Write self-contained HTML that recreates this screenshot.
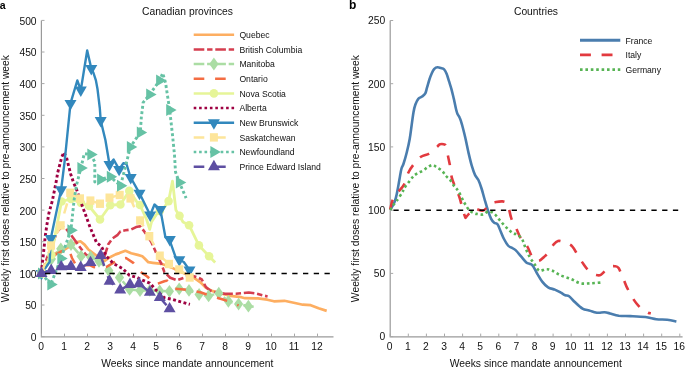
<!DOCTYPE html><html><head><meta charset="utf-8"><style>html,body{margin:0;padding:0;background:#fff;overflow:hidden}svg{display:block;will-change:transform}</style></head><body>
<svg width="685" height="367" viewBox="0 0 685 367" font-family='"Liberation Sans", sans-serif'>
<path d="M41.4,20.4 V336.8 H333.5" fill="none" stroke="#9a9a9a" stroke-width="1.2"/>
<text x="36.6" y="341.0" font-size="10.3" text-anchor="end" fill="#111">0</text>
<text x="36.6" y="309.4" font-size="10.3" text-anchor="end" fill="#111">50</text>
<text x="36.6" y="277.8" font-size="10.3" text-anchor="end" fill="#111">100</text>
<text x="36.6" y="246.1" font-size="10.3" text-anchor="end" fill="#111">150</text>
<text x="36.6" y="214.5" font-size="10.3" text-anchor="end" fill="#111">200</text>
<text x="36.6" y="182.9" font-size="10.3" text-anchor="end" fill="#111">250</text>
<text x="36.6" y="151.3" font-size="10.3" text-anchor="end" fill="#111">300</text>
<text x="36.6" y="119.7" font-size="10.3" text-anchor="end" fill="#111">350</text>
<text x="36.6" y="88.0" font-size="10.3" text-anchor="end" fill="#111">400</text>
<text x="36.6" y="56.4" font-size="10.3" text-anchor="end" fill="#111">450</text>
<text x="36.6" y="24.8" font-size="10.3" text-anchor="end" fill="#111">500</text>
<text x="41.0" y="349.8" font-size="10.3" text-anchor="middle" fill="#111">0</text>
<text x="64.0" y="349.8" font-size="10.3" text-anchor="middle" fill="#111">1</text>
<text x="87.0" y="349.8" font-size="10.3" text-anchor="middle" fill="#111">2</text>
<text x="110.0" y="349.8" font-size="10.3" text-anchor="middle" fill="#111">3</text>
<text x="133.0" y="349.8" font-size="10.3" text-anchor="middle" fill="#111">4</text>
<text x="156.0" y="349.8" font-size="10.3" text-anchor="middle" fill="#111">5</text>
<text x="179.0" y="349.8" font-size="10.3" text-anchor="middle" fill="#111">6</text>
<text x="202.0" y="349.8" font-size="10.3" text-anchor="middle" fill="#111">7</text>
<text x="225.0" y="349.8" font-size="10.3" text-anchor="middle" fill="#111">8</text>
<text x="248.0" y="349.8" font-size="10.3" text-anchor="middle" fill="#111">9</text>
<text x="271.0" y="349.8" font-size="10.3" text-anchor="middle" fill="#111">10</text>
<text x="294.0" y="349.8" font-size="10.3" text-anchor="middle" fill="#111">11</text>
<text x="317.0" y="349.8" font-size="10.3" text-anchor="middle" fill="#111">12</text>
<path d="M41.5,336.6 h3 M41.5,305.0 h3 M41.5,273.4 h3 M41.5,241.7 h3 M41.5,210.1 h3 M41.5,178.5 h3 M41.5,146.9 h3 M41.5,115.3 h3 M41.5,83.6 h3 M41.5,52.0 h3 M41.5,20.4 h3 M41.5,336.6 v-3 M64.5,336.6 v-3 M87.5,336.6 v-3 M110.5,336.6 v-3 M133.5,336.6 v-3 M156.5,336.6 v-3 M179.5,336.6 v-3 M202.5,336.6 v-3 M225.5,336.6 v-3 M248.5,336.6 v-3 M271.5,336.6 v-3 M294.5,336.6 v-3 M317.5,336.6 v-3" stroke="#a8a8a8" stroke-width="1"/>
<text x="187.3" y="367" font-size="10.3" text-anchor="middle" fill="#111">Weeks since mandate announcement</text>
<text transform="translate(8.6,178.6) rotate(-90)" font-size="10.3" text-anchor="middle" fill="#111">Weekly first doses relative to pre-announcement week</text>
<text x="187.5" y="14.9" font-size="10.3" text-anchor="middle" fill="#111">Canadian provinces</text>
<text x="-0.3" y="8.9" font-size="10.5" font-weight="bold" fill="#000">a</text>
<path d="M390.2,20.5 V336.8 H682.6" fill="none" stroke="#9a9a9a" stroke-width="1.2"/>
<text x="385.3" y="340.4" font-size="10.3" text-anchor="end" fill="#111">0</text>
<text x="385.3" y="277.2" font-size="10.3" text-anchor="end" fill="#111">50</text>
<text x="385.3" y="214.0" font-size="10.3" text-anchor="end" fill="#111">100</text>
<text x="385.3" y="150.7" font-size="10.3" text-anchor="end" fill="#111">150</text>
<text x="385.3" y="87.5" font-size="10.3" text-anchor="end" fill="#111">200</text>
<text x="385.3" y="24.3" font-size="10.3" text-anchor="end" fill="#111">250</text>
<text x="389.7" y="349.8" font-size="10.3" text-anchor="middle" fill="#111">0</text>
<text x="407.8" y="349.8" font-size="10.3" text-anchor="middle" fill="#111">1</text>
<text x="425.9" y="349.8" font-size="10.3" text-anchor="middle" fill="#111">2</text>
<text x="444.0" y="349.8" font-size="10.3" text-anchor="middle" fill="#111">3</text>
<text x="462.1" y="349.8" font-size="10.3" text-anchor="middle" fill="#111">4</text>
<text x="480.2" y="349.8" font-size="10.3" text-anchor="middle" fill="#111">5</text>
<text x="498.3" y="349.8" font-size="10.3" text-anchor="middle" fill="#111">6</text>
<text x="516.4" y="349.8" font-size="10.3" text-anchor="middle" fill="#111">7</text>
<text x="534.5" y="349.8" font-size="10.3" text-anchor="middle" fill="#111">8</text>
<text x="552.6" y="349.8" font-size="10.3" text-anchor="middle" fill="#111">9</text>
<text x="570.7" y="349.8" font-size="10.3" text-anchor="middle" fill="#111">10</text>
<text x="588.8" y="349.8" font-size="10.3" text-anchor="middle" fill="#111">11</text>
<text x="606.9" y="349.8" font-size="10.3" text-anchor="middle" fill="#111">12</text>
<text x="625.0" y="349.8" font-size="10.3" text-anchor="middle" fill="#111">13</text>
<text x="643.1" y="349.8" font-size="10.3" text-anchor="middle" fill="#111">14</text>
<text x="661.2" y="349.8" font-size="10.3" text-anchor="middle" fill="#111">15</text>
<text x="679.3" y="349.8" font-size="10.3" text-anchor="middle" fill="#111">16</text>
<path d="M390.2,336.6 h3 M390.2,273.4 h3 M390.2,210.2 h3 M390.2,146.9 h3 M390.2,83.7 h3 M390.2,20.5 h3 M390.2,336.6 v-3 M408.3,336.6 v-3 M426.4,336.6 v-3 M444.5,336.6 v-3 M462.6,336.6 v-3 M480.7,336.6 v-3 M498.8,336.6 v-3 M516.9,336.6 v-3 M535.0,336.6 v-3 M553.1,336.6 v-3 M571.2,336.6 v-3 M589.3,336.6 v-3 M607.4,336.6 v-3 M625.5,336.6 v-3 M643.6,336.6 v-3 M661.7,336.6 v-3 M679.8,336.6 v-3" stroke="#a8a8a8" stroke-width="1"/>
<text x="535.8" y="367" font-size="10.3" text-anchor="middle" fill="#111">Weeks since mandate announcement</text>
<text transform="translate(359.2,178.6) rotate(-90)" font-size="10.3" text-anchor="middle" fill="#111">Weekly first doses relative to pre-announcement week</text>
<text x="536" y="14.9" font-size="10.3" text-anchor="middle" fill="#111">Countries</text>
<text x="349.0" y="8.9" font-size="12" font-weight="bold" fill="#000">b</text>
<path d="M41.5,273.4 L47.0,262.0 L53.0,255.0 L58.0,252.0 L63.3,250.3 L69.8,246.3 L76.3,242.2 L80.4,241.3 L84.5,244.6 L88.1,249.2 L92.7,252.8 L99.2,257.7 L104.7,261.0 L109.0,257.7 L115.6,254.4 L119.4,253.1 L125.4,250.8 L131.2,253.2 L137.7,254.9 L142.3,256.3 L144.7,258.5 L148.3,262.2 L152.8,262.8 L162.1,263.9 L171.3,267.4 L180.6,272.0 L186.0,274.0 L192.7,276.8 L200.4,282.3 L205.9,287.7 L212.7,291.1 L222.2,293.8 L230.4,295.9 L241.3,297.2 L245.0,298.2 L258.1,298.4 L267.3,299.7 L273.9,301.3 L284.4,300.8 L294.9,303.0 L302.8,304.7 L310.7,305.2 L318.6,308.3 L326.7,310.9" fill="none" stroke="#fdae61" stroke-width="2.7" stroke-linecap="butt" stroke-linejoin="round"/>
<path d="M41.5,273.4 L47.0,258.0 L52.0,245.0 L57.4,231.3 L62.0,226.5 L65.6,228.1 L71.6,235.7 L77.1,243.3 L82.9,251.2 L86.0,254.6 L90.2,256.9 L96.0,258.5 L104.1,257.7 L108.3,244.2 L112.4,238.5 L117.3,235.2 L120.5,231.2 L125.4,230.3 L131.2,229.5 L136.1,227.1 L140.1,226.3 L143.4,230.3 L147.5,236.1 L151.6,242.6 L154.9,250.0 L157.3,255.7 L161.4,263.9 L164.4,272.1 L170.2,277.8 L177.1,280.2 L184.1,277.8 L187.4,276.5 L193.0,276.0 L198.0,277.5 L201.8,279.5 L205.9,287.0 L210.0,290.4 L216.8,292.5 L225.0,293.8 L235.9,293.8 L248.8,292.5 L255.0,293.3 L264.7,295.8 L267.6,296.4" fill="none" stroke="#d53e4f" stroke-width="2.6" stroke-dasharray="10.6 2.8 5.4 2.8" stroke-linecap="butt" stroke-linejoin="round"/>
<path d="M41.5,273.4 L51.4,259.0 L60.8,248.8 L71.0,244.5 L81.0,256.2 L90.6,257.0 L99.0,261.3 L108.8,270.6 L119.5,277.5 L129.6,289.4 L140.0,290.6 L149.8,290.4 L159.7,291.0 L169.4,291.3 L179.2,288.8 L189.0,290.4 L199.1,294.5 L208.6,295.9 L218.8,293.2 L228.4,301.3 L238.6,304.1 L248.4,306.2 L254.2,306.9" fill="none" stroke="#abdda4" stroke-width="2.5" stroke-dasharray="10.6 2.8 5.4 2.8" stroke-linecap="butt" stroke-linejoin="round"/>
<path d="M41.5,267.0 L46.1,273.4 L41.5,279.8 L36.9,273.4 Z" fill="#abdda4"/>
<path d="M51.4,252.6 L56.0,259.0 L51.4,265.4 L46.8,259.0 Z" fill="#abdda4"/>
<path d="M60.8,242.4 L65.4,248.8 L60.8,255.2 L56.2,248.8 Z" fill="#abdda4"/>
<path d="M71.0,238.1 L75.6,244.5 L71.0,250.9 L66.4,244.5 Z" fill="#abdda4"/>
<path d="M81.0,249.8 L85.6,256.2 L81.0,262.6 L76.4,256.2 Z" fill="#abdda4"/>
<path d="M90.6,250.6 L95.2,257.0 L90.6,263.4 L86.0,257.0 Z" fill="#abdda4"/>
<path d="M99.0,254.9 L103.6,261.3 L99.0,267.7 L94.4,261.3 Z" fill="#abdda4"/>
<path d="M108.8,264.2 L113.4,270.6 L108.8,277.0 L104.2,270.6 Z" fill="#abdda4"/>
<path d="M119.5,271.1 L124.1,277.5 L119.5,283.9 L114.9,277.5 Z" fill="#abdda4"/>
<path d="M129.6,283.0 L134.2,289.4 L129.6,295.8 L125.0,289.4 Z" fill="#abdda4"/>
<path d="M140.0,284.2 L144.6,290.6 L140.0,297.0 L135.4,290.6 Z" fill="#abdda4"/>
<path d="M149.8,284.0 L154.4,290.4 L149.8,296.8 L145.2,290.4 Z" fill="#abdda4"/>
<path d="M159.7,284.6 L164.3,291.0 L159.7,297.4 L155.1,291.0 Z" fill="#abdda4"/>
<path d="M169.4,284.9 L174.0,291.3 L169.4,297.7 L164.8,291.3 Z" fill="#abdda4"/>
<path d="M179.2,282.4 L183.8,288.8 L179.2,295.2 L174.6,288.8 Z" fill="#abdda4"/>
<path d="M189.0,284.0 L193.6,290.4 L189.0,296.8 L184.4,290.4 Z" fill="#abdda4"/>
<path d="M199.1,288.1 L203.7,294.5 L199.1,300.9 L194.5,294.5 Z" fill="#abdda4"/>
<path d="M208.6,289.5 L213.2,295.9 L208.6,302.3 L204.0,295.9 Z" fill="#abdda4"/>
<path d="M218.8,286.8 L223.4,293.2 L218.8,299.6 L214.2,293.2 Z" fill="#abdda4"/>
<path d="M228.4,294.9 L233.0,301.3 L228.4,307.7 L223.8,301.3 Z" fill="#abdda4"/>
<path d="M238.6,297.7 L243.2,304.1 L238.6,310.5 L234.0,304.1 Z" fill="#abdda4"/>
<path d="M248.4,299.8 L253.0,306.2 L248.4,312.6 L243.8,306.2 Z" fill="#abdda4"/>
<path d="M41.5,273.4 L48.0,262.0 L54.3,255.2 L60.0,252.0 L66.8,249.2 L69.1,250.0 L72.0,258.0 L75.5,264.4 L80.0,265.5 L89.4,265.0 L93.3,267.0 L100.0,267.5 L106.3,267.0 L114.5,262.1 L120.0,259.0 L126.0,258.0 L133.3,262.9 L140.7,271.9 L147.2,276.5 L155.1,283.6 L157.2,283.9 L164.4,281.3 L167.0,280.6 L175.1,288.8 L184.1,289.6 L194.0,291.0 L201.1,292.5 L212.7,296.6 L222.2,299.3 L232.5,302.7 L238.6,305.4" fill="none" stroke="#f46d43" stroke-width="2.5" stroke-dasharray="10.6 10.8" stroke-linecap="butt" stroke-linejoin="round"/>
<path d="M41.5,273.4 L51.4,255.0 L61.5,201.5 L71.0,199.0 L81.0,203.0 L89.0,206.0 L100.0,219.5 L110.2,205.2 L120.4,204.5 L129.3,190.9 L137.3,202.5 L140.0,205.0 L146.6,219.5 L149.7,229.3 L151.5,222.0 L156.4,214.6 L159.8,211.0 L162.6,209.7 L168.6,201.1 L172.5,181.1 L175.9,210.0 L179.5,215.7 L183.0,222.0 L189.1,225.2 L198.9,245.4 L209.1,256.3 L215.2,262.5" fill="none" stroke="#e6f598" stroke-width="2.8" stroke-linecap="butt" stroke-linejoin="round"/>
<circle cx="41.5" cy="273.4" r="4.3" fill="#e6f598"/>
<circle cx="51.4" cy="255.0" r="4.3" fill="#e6f598"/>
<circle cx="61.5" cy="201.5" r="4.3" fill="#e6f598"/>
<circle cx="71.0" cy="199.0" r="4.3" fill="#e6f598"/>
<circle cx="81.0" cy="203.0" r="4.3" fill="#e6f598"/>
<circle cx="89.0" cy="206.0" r="4.3" fill="#e6f598"/>
<circle cx="100.0" cy="219.5" r="4.3" fill="#e6f598"/>
<circle cx="110.2" cy="205.2" r="4.3" fill="#e6f598"/>
<circle cx="120.4" cy="204.5" r="4.3" fill="#e6f598"/>
<circle cx="129.3" cy="190.9" r="4.3" fill="#e6f598"/>
<circle cx="140.0" cy="205.0" r="4.3" fill="#e6f598"/>
<circle cx="159.8" cy="211.0" r="4.3" fill="#e6f598"/>
<circle cx="168.6" cy="201.1" r="4.3" fill="#e6f598"/>
<circle cx="179.5" cy="215.7" r="4.3" fill="#e6f598"/>
<circle cx="189.1" cy="225.2" r="4.3" fill="#e6f598"/>
<circle cx="198.9" cy="245.4" r="4.3" fill="#e6f598"/>
<circle cx="209.1" cy="256.3" r="4.3" fill="#e6f598"/>
<path d="M41.5,273.4 L42.0,266.6 L43.6,252.0 L45.4,235.0 L46.8,225.4 L48.9,213.2 L52.3,200.9 L55.0,187.7 L56.3,180.9 L57.7,172.7 L59.8,164.5 L61.8,157.0 L63.8,152.3 L66.6,157.7 L68.6,165.9 L70.7,174.1 L73.4,182.2 L76.1,188.4 L77.5,192.0 L80.9,202.3 L85.0,213.2 L88.4,222.7 L90.2,227.5 L96.5,242.5 L101.4,246.5 L106.3,256.3 L113.7,263.7 L122.7,268.6 L129.2,275.1 L137.4,277.6 L141.6,279.8 L149.8,283.1 L156.3,290.4 L164.5,297.8 L172.7,299.4 L180.9,301.9 L189.9,304.3" fill="none" stroke="#9e0142" stroke-width="2.9" stroke-dasharray="2.9 2.5" stroke-linecap="butt" stroke-linejoin="round"/>
<path d="M41.5,273.4 L49.6,262.0 L50.8,238.6 L61.1,189.8 L64.8,160.0 L70.5,103.4 L77.3,80.5 L80.8,90.1 L87.2,50.5 L91.3,68.5 L93.5,73.0 L95.9,80.4 L97.5,89.0 L98.6,98.1 L99.8,108.0 L100.7,120.5 L105.4,140.0 L109.5,164.5 L113.6,159.5 L119.1,169.4 L123.4,163.2 L126.5,164.0 L130.4,177.0 L139.5,193.3 L150.2,215.0 L154.5,204.5 L160.4,209.6 L165.4,237.3 L169.6,240.1 L175.7,257.5 L179.4,259.8 L183.8,262.0 L189.2,269.6" fill="none" stroke="#3288bd" stroke-width="2.4" stroke-linecap="butt" stroke-linejoin="round"/>
<path d="M35.5,269.9 L47.5,269.9 L41.5,280.3 Z" fill="#3288bd"/>
<path d="M44.8,235.1 L56.8,235.1 L50.8,245.5 Z" fill="#3288bd"/>
<path d="M55.1,186.3 L67.1,186.3 L61.1,196.7 Z" fill="#3288bd"/>
<path d="M64.5,99.9 L76.5,99.9 L70.5,110.3 Z" fill="#3288bd"/>
<path d="M74.8,86.6 L86.8,86.6 L80.8,97.0 Z" fill="#3288bd"/>
<path d="M85.3,65.0 L97.3,65.0 L91.3,75.4 Z" fill="#3288bd"/>
<path d="M94.7,117.0 L106.7,117.0 L100.7,127.4 Z" fill="#3288bd"/>
<path d="M103.5,161.0 L115.5,161.0 L109.5,171.4 Z" fill="#3288bd"/>
<path d="M113.1,165.9 L125.1,165.9 L119.1,176.3 Z" fill="#3288bd"/>
<path d="M124.7,174.0 L136.7,174.0 L130.7,184.4 Z" fill="#3288bd"/>
<path d="M133.5,189.8 L145.5,189.8 L139.5,200.2 Z" fill="#3288bd"/>
<path d="M144.2,211.5 L156.2,211.5 L150.2,221.9 Z" fill="#3288bd"/>
<path d="M154.4,206.1 L166.4,206.1 L160.4,216.5 Z" fill="#3288bd"/>
<path d="M163.8,236.0 L175.8,236.0 L169.8,246.4 Z" fill="#3288bd"/>
<path d="M173.3,256.3 L185.3,256.3 L179.3,266.7 Z" fill="#3288bd"/>
<path d="M183.5,266.5 L195.5,266.5 L189.5,276.9 Z" fill="#3288bd"/>
<path d="M41.5,273.4 L51.0,245.5 L60.7,225.4 L70.2,192.8 L80.0,198.5 L90.4,200.6 L100.0,203.7 L109.5,197.7 L119.7,195.0 L130.4,198.4 L140.1,220.5 L149.3,236.2 L159.8,255.7 L169.0,264.0 L179.2,269.5 L189.7,277.5" fill="none" stroke="#fde59a" stroke-width="2.5" stroke-dasharray="10.6 10.8" stroke-linecap="butt" stroke-linejoin="round"/>
<rect x="37.5" y="269.2" width="8.0" height="8.4" fill="#fde59a"/>
<rect x="47.0" y="241.3" width="8.0" height="8.4" fill="#fde59a"/>
<rect x="56.7" y="221.2" width="8.0" height="8.4" fill="#fde59a"/>
<rect x="66.2" y="188.6" width="8.0" height="8.4" fill="#fde59a"/>
<rect x="76.0" y="194.3" width="8.0" height="8.4" fill="#fde59a"/>
<rect x="86.4" y="196.4" width="8.0" height="8.4" fill="#fde59a"/>
<rect x="96.0" y="199.5" width="8.0" height="8.4" fill="#fde59a"/>
<rect x="105.5" y="193.5" width="8.0" height="8.4" fill="#fde59a"/>
<rect x="115.7" y="190.8" width="8.0" height="8.4" fill="#fde59a"/>
<rect x="126.4" y="194.2" width="8.0" height="8.4" fill="#fde59a"/>
<rect x="136.1" y="216.3" width="8.0" height="8.4" fill="#fde59a"/>
<rect x="145.3" y="232.0" width="8.0" height="8.4" fill="#fde59a"/>
<rect x="155.8" y="251.5" width="8.0" height="8.4" fill="#fde59a"/>
<rect x="165.0" y="259.8" width="8.0" height="8.4" fill="#fde59a"/>
<rect x="175.2" y="265.3" width="8.0" height="8.4" fill="#fde59a"/>
<rect x="185.7" y="273.3" width="8.0" height="8.4" fill="#fde59a"/>
<path d="M41.5,273.4 L50.8,284.6 L60.8,258.5 L66.3,243.2 L70.9,230.2 L74.1,200.0 L76.5,185.0 L80.9,168.0 L84.3,153.6 L90.8,154.6 L94.8,162.0 L94.8,182.0 L100.6,179.4 L110.3,176.7 L120.5,185.8 L125.4,166.8 L130.4,147.0 L140.3,132.4 L141.3,117.7 L143.1,102.6 L149.7,94.4 L159.6,80.5 L162.7,73.2 L165.6,83.0 L167.3,94.4 L169.7,110.0 L172.5,135.0 L174.5,155.0 L175.5,172.0 L179.4,182.5 L186.1,198.1" fill="none" stroke="#66c2a5" stroke-width="2.9" stroke-dasharray="2.9 2.5" stroke-linecap="butt" stroke-linejoin="round"/>
<path d="M38.0,267.4 L38.0,279.4 L48.4,273.4 Z" fill="#66c2a5"/>
<path d="M47.3,278.6 L47.3,290.6 L57.7,284.6 Z" fill="#66c2a5"/>
<path d="M57.3,252.5 L57.3,264.5 L67.7,258.5 Z" fill="#66c2a5"/>
<path d="M67.4,224.2 L67.4,236.2 L77.8,230.2 Z" fill="#66c2a5"/>
<path d="M77.4,162.0 L77.4,174.0 L87.8,168.0 Z" fill="#66c2a5"/>
<path d="M87.3,148.6 L87.3,160.6 L97.7,154.6 Z" fill="#66c2a5"/>
<path d="M97.1,173.4 L97.1,185.4 L107.5,179.4 Z" fill="#66c2a5"/>
<path d="M106.8,170.7 L106.8,182.7 L117.2,176.7 Z" fill="#66c2a5"/>
<path d="M117.0,179.8 L117.0,191.8 L127.4,185.8 Z" fill="#66c2a5"/>
<path d="M126.9,141.0 L126.9,153.0 L137.3,147.0 Z" fill="#66c2a5"/>
<path d="M136.8,126.4 L136.8,138.4 L147.2,132.4 Z" fill="#66c2a5"/>
<path d="M146.2,88.4 L146.2,100.4 L156.6,94.4 Z" fill="#66c2a5"/>
<path d="M156.1,74.5 L156.1,86.5 L166.5,80.5 Z" fill="#66c2a5"/>
<path d="M166.2,104.0 L166.2,116.0 L176.6,110.0 Z" fill="#66c2a5"/>
<path d="M175.9,176.5 L175.9,188.5 L186.3,182.5 Z" fill="#66c2a5"/>
<path d="M41.5,273.4 L51.2,270.5 L61.2,266.8 L70.9,266.4 L80.7,267.5 L90.5,262.6 L100.6,255.4 L109.6,281.2 L120.2,290.0 L130.0,284.5 L139.0,283.7 L149.9,292.2 L159.8,297.5 L169.6,308.8" fill="none" stroke="#5e4fa2" stroke-width="2.5" stroke-dasharray="10.6 10.8" stroke-linecap="butt" stroke-linejoin="round"/>
<path d="M35.5,276.9 L47.5,276.9 L41.5,266.5 Z" fill="#5e4fa2"/>
<path d="M45.2,274.0 L57.2,274.0 L51.2,263.6 Z" fill="#5e4fa2"/>
<path d="M55.2,270.3 L67.2,270.3 L61.2,259.9 Z" fill="#5e4fa2"/>
<path d="M64.9,269.9 L76.9,269.9 L70.9,259.5 Z" fill="#5e4fa2"/>
<path d="M74.7,271.0 L86.7,271.0 L80.7,260.6 Z" fill="#5e4fa2"/>
<path d="M84.5,266.1 L96.5,266.1 L90.5,255.7 Z" fill="#5e4fa2"/>
<path d="M94.6,258.9 L106.6,258.9 L100.6,248.5 Z" fill="#5e4fa2"/>
<path d="M103.6,284.7 L115.6,284.7 L109.6,274.3 Z" fill="#5e4fa2"/>
<path d="M114.2,293.5 L126.2,293.5 L120.2,283.1 Z" fill="#5e4fa2"/>
<path d="M124.0,288.0 L136.0,288.0 L130.0,277.6 Z" fill="#5e4fa2"/>
<path d="M133.0,287.2 L145.0,287.2 L139.0,276.8 Z" fill="#5e4fa2"/>
<path d="M143.9,295.7 L155.9,295.7 L149.9,285.3 Z" fill="#5e4fa2"/>
<path d="M153.8,301.0 L165.8,301.0 L159.8,290.6 Z" fill="#5e4fa2"/>
<path d="M163.6,312.3 L175.6,312.3 L169.6,301.9 Z" fill="#5e4fa2"/>
<path d="M390.1,209.6 C390.7,208.7 392.8,205.8 393.7,203.9 C394.6,202.0 395.1,200.8 395.8,198.2 C396.5,195.6 397.3,191.6 397.9,188.3 C398.5,185.0 399.0,181.7 399.6,178.4 C400.2,175.1 400.8,171.0 401.5,168.5 C402.2,166.0 402.7,166.2 403.6,163.5 C404.5,160.8 405.8,156.4 406.8,152.3 C407.8,148.2 408.9,143.4 409.7,138.9 C410.5,134.4 411.0,129.9 411.6,125.5 C412.2,121.0 412.9,115.7 413.5,112.2 C414.1,108.7 414.6,106.7 415.4,104.5 C416.2,102.3 417.2,100.1 418.3,98.8 C419.4,97.5 420.9,97.4 422.1,96.5 C423.3,95.6 424.5,94.9 425.3,93.4 C426.1,91.9 426.3,90.0 427.0,87.7 C427.7,85.4 428.6,82.0 429.4,79.5 C430.2,77.0 431.1,74.8 431.9,73.0 C432.7,71.2 433.4,69.9 434.3,68.9 C435.2,68.0 436.5,67.4 437.6,67.3 C438.7,67.2 439.8,67.8 440.9,68.1 C442.0,68.4 443.2,68.5 444.1,69.4 C445.1,70.4 445.8,71.8 446.6,73.8 C447.4,75.8 448.2,78.6 449.0,81.2 C449.8,83.8 450.7,86.3 451.5,89.3 C452.3,92.3 453.1,95.8 453.9,99.1 C454.6,102.4 455.4,106.5 456.0,109.0 C456.6,111.5 456.9,112.6 457.5,114.0 C458.1,115.4 458.9,115.7 459.6,117.5 C460.4,119.3 461.1,121.2 462.0,124.6 C462.9,128.0 464.2,132.9 465.3,137.7 C466.4,142.4 467.5,148.3 468.6,153.1 C469.7,157.8 470.8,162.5 471.9,166.2 C473.0,169.9 474.0,172.8 475.1,175.1 C476.2,177.4 477.3,177.7 478.4,180.0 C479.5,182.3 480.7,185.8 481.7,189.0 C482.7,192.2 483.5,195.6 484.5,199.0 C485.5,202.4 486.6,206.3 487.7,209.6 C488.8,212.9 489.9,216.4 491.0,218.6 C492.1,220.8 493.1,221.8 494.2,222.7 C495.3,223.6 496.4,222.8 497.5,224.3 C498.6,225.8 499.7,229.2 500.8,231.7 C501.9,234.1 502.8,236.7 504.0,239.0 C505.2,241.3 506.8,244.1 508.0,245.5 C509.2,246.9 510.2,246.9 511.5,247.7 C512.8,248.5 514.0,248.6 515.6,250.1 C517.2,251.6 519.5,254.6 521.3,256.7 C523.1,258.8 524.9,261.2 526.3,262.4 C527.7,263.6 528.5,263.3 529.5,263.7 C530.5,264.1 531.0,263.9 532.0,264.9 C533.0,265.9 534.3,268.2 535.2,269.8 C536.1,271.4 536.4,272.3 537.6,274.3 C538.8,276.3 540.6,279.7 542.4,281.9 C544.1,284.1 546.0,286.0 548.1,287.3 C550.2,288.6 552.7,288.8 554.8,289.6 C556.9,290.5 558.8,291.4 560.5,292.4 C562.2,293.3 563.9,294.7 565.3,295.3 C566.7,295.9 567.5,295.1 569.1,296.2 C570.7,297.3 572.6,299.9 574.8,302.0 C577.0,304.1 580.1,307.2 582.5,308.6 C584.9,310.0 586.9,309.9 589.1,310.5 C591.3,311.1 594.1,312.1 595.8,312.5 C597.5,312.9 597.6,312.7 599.1,312.7 C600.6,312.7 602.7,312.2 604.5,312.3 C606.3,312.4 607.6,312.8 610.0,313.4 C612.4,314.0 615.4,315.2 618.8,315.7 C622.2,316.1 626.0,315.9 630.4,316.1 C634.8,316.3 641.1,316.5 645.4,317.0 C649.7,317.5 652.7,318.7 656.3,319.2 C659.9,319.7 663.9,319.4 667.2,319.8 C670.6,320.2 674.9,321.2 676.4,321.5" fill="none" stroke="#4a7dae" stroke-width="2.6" stroke-linecap="butt" stroke-linejoin="round"/>
<path d="M390.2,209.5 C390.6,207.9 391.4,202.7 392.7,199.8 C394.0,196.9 396.2,194.7 398.1,192.2 C400.0,189.7 402.3,187.8 404.0,184.6 C405.7,181.4 406.8,176.1 408.3,172.8 C409.9,169.5 411.2,167.6 413.3,164.9 C415.4,162.2 418.3,158.7 421.0,156.8 C423.7,154.9 426.7,155.1 429.4,153.4 C432.1,151.7 435.4,148.2 437.2,146.7 C439.0,145.2 438.7,144.5 440.0,144.2 C441.3,143.9 443.8,144.1 444.9,144.7 C446.0,145.3 446.0,146.0 446.5,148.0 C447.0,150.0 447.5,153.5 448.1,156.5 C448.7,159.5 449.5,162.7 450.1,166.2 C450.7,169.7 451.0,174.2 451.8,177.6 C452.6,181.0 454.1,184.3 455.0,186.6 C455.9,188.9 456.4,189.2 457.2,191.3 C458.0,193.4 459.1,196.1 460.0,199.0 C460.9,201.9 461.7,206.0 462.6,209.0 C463.5,212.0 464.6,215.9 465.2,217.2 C465.8,218.4 465.2,217.8 466.5,216.5 C467.8,215.2 471.3,210.9 472.7,209.6 C474.1,208.3 474.1,208.5 475.0,208.5 C475.9,208.5 476.6,209.2 478.0,209.5 C479.4,209.8 481.6,211.3 483.6,210.4 C485.6,209.5 488.0,205.3 490.1,203.9 C492.2,202.5 493.9,202.4 496.0,202.0 C498.1,201.6 500.6,201.3 502.4,201.4 C504.1,201.5 505.5,201.8 506.5,202.8 C507.5,203.8 507.8,204.6 508.6,207.2 C509.4,209.8 510.1,215.1 511.4,218.6 C512.6,222.1 514.5,224.6 516.1,228.1 C517.8,231.6 519.5,236.5 521.3,239.5 C523.1,242.5 525.3,243.2 527.1,246.1 C528.9,249.0 530.5,254.4 532.0,256.7 C533.5,259.0 534.8,259.3 536.0,260.0 C537.2,260.7 538.0,261.3 539.3,260.8 C540.6,260.3 542.5,258.4 544.0,257.0 C545.5,255.6 546.7,254.7 548.3,252.6 C549.9,250.5 552.1,246.3 553.7,244.4 C555.3,242.5 556.3,241.4 558.0,241.0 C559.7,240.6 561.6,241.3 564.0,242.2 C566.4,243.1 569.8,243.9 572.2,246.3 C574.7,248.8 576.7,253.8 578.7,256.9 C580.7,260.0 582.6,262.8 584.1,265.0 C585.6,267.2 586.7,268.6 588.0,270.0 C589.3,271.4 590.4,272.3 591.8,273.2 C593.2,274.1 595.0,274.8 596.5,275.1 C598.0,275.4 599.4,275.6 600.8,274.9 C602.2,274.2 603.5,272.3 605.0,271.0 C606.5,269.7 608.0,267.8 609.6,267.0 C611.2,266.2 613.0,266.0 614.5,266.2 C616.0,266.4 617.1,265.9 618.6,268.1 C620.1,270.3 622.0,275.9 623.5,279.2 C625.0,282.5 625.7,285.0 627.3,288.2 C628.9,291.4 631.0,295.4 632.9,298.4 C634.8,301.4 636.9,304.1 638.8,306.1 C640.6,308.1 642.5,309.4 644.0,310.5 C645.5,311.6 647.0,312.2 648.1,312.7 C649.2,313.2 650.3,313.3 650.8,313.4" fill="none" stroke="#e23a3f" stroke-width="2.6" stroke-dasharray="10 10.3" stroke-linecap="butt" stroke-linejoin="round"/>
<path d="M390.5,210.0 C390.8,209.3 391.5,207.5 392.5,206.0 C393.5,204.5 394.9,203.3 396.5,201.1 C398.1,198.9 400.9,194.7 402.2,192.6 C403.4,190.5 403.1,190.0 404.0,188.5 C404.9,187.0 406.4,185.2 407.8,183.4 C409.2,181.6 411.1,179.0 412.2,177.7 C413.3,176.4 413.2,176.3 414.2,175.5 C415.2,174.7 416.5,173.8 418.0,173.0 C419.5,172.2 421.4,171.5 423.1,170.5 C424.8,169.5 426.4,167.9 428.0,167.0 C429.6,166.1 431.2,164.9 432.7,165.0 C434.2,165.1 435.4,166.5 437.0,167.5 C438.6,168.5 440.7,169.5 442.2,170.9 C443.7,172.3 444.6,174.4 446.0,176.0 C447.4,177.6 449.0,178.7 450.4,180.4 C451.8,182.2 453.1,184.7 454.5,186.5 C455.9,188.3 457.0,188.9 458.6,191.5 C460.2,194.1 462.2,199.0 464.0,202.2 C465.8,205.3 467.7,208.5 469.5,210.4 C471.3,212.3 473.2,212.9 474.6,213.5 C476.0,214.1 476.2,213.8 477.6,214.0 C479.0,214.2 481.3,214.9 483.1,214.5 C484.9,214.1 486.6,211.4 488.5,211.3 C490.4,211.2 492.4,212.3 494.2,213.7 C496.0,215.0 497.5,217.5 499.1,219.4 C500.7,221.3 502.4,223.3 504.0,225.1 C505.6,226.9 507.5,228.6 509.0,230.0 C510.5,231.4 511.6,232.5 513.0,233.3 C514.4,234.1 515.8,233.6 517.3,234.6 C518.8,235.6 520.9,237.3 522.2,239.5 C523.6,241.7 524.2,244.8 525.4,247.7 C526.6,250.6 528.0,254.0 529.5,256.7 C531.0,259.4 532.8,261.7 534.4,264.0 C536.0,266.3 537.4,269.7 539.3,270.6 C541.2,271.5 543.9,269.2 546.0,269.2 C548.1,269.2 549.6,269.5 552.0,270.5 C554.4,271.5 557.3,273.9 560.5,275.3 C563.7,276.7 567.7,277.7 571.0,279.0 C574.3,280.3 577.2,282.6 580.5,283.3 C583.8,284.0 587.5,283.4 591.0,283.3 C594.5,283.2 599.8,282.6 601.5,282.5" fill="none" stroke="#57b454" stroke-width="2.6" stroke-dasharray="2.6 2.8" stroke-linecap="butt" stroke-linejoin="round"/>
<path d="M41.5,273.5 H333" stroke="#000" stroke-width="1.5" stroke-dasharray="5.3 5.45" stroke-dashoffset="-3.5"/>
<path d="M390.2,210.2 H682" stroke="#000" stroke-width="1.5" stroke-dasharray="5.3 5.45" stroke-dashoffset="-3.2"/>
<path d="M193.7,34.7 H234.1" stroke="#fdae61" stroke-width="2.5"/>
<text x="239.4" y="37.9" font-size="8.65" fill="#111">Quebec</text>
<path d="M193.7,49.4 H234.1" stroke="#d53e4f" stroke-width="2.5" stroke-dasharray="10.6 2.8 5.4 2.8"/>
<text x="239.4" y="52.6" font-size="8.65" fill="#111">British Columbia</text>
<path d="M193.7,64.0 H234.1" stroke="#abdda4" stroke-width="2.5" stroke-dasharray="10.6 2.8 5.4 2.8"/>
<path d="M213.9,57.6 L218.5,64.0 L213.9,70.4 L209.3,64.0 Z" fill="#abdda4"/>
<text x="239.4" y="67.2" font-size="8.65" fill="#111">Manitoba</text>
<path d="M193.7,78.7 H234.1" stroke="#f46d43" stroke-width="2.5" stroke-dasharray="10.6 10.8"/>
<text x="239.4" y="81.9" font-size="8.65" fill="#111">Ontario</text>
<path d="M193.7,93.4 H234.1" stroke="#e6f598" stroke-width="2.5"/>
<circle cx="213.9" cy="93.4" r="4.3" fill="#e6f598"/>
<text x="239.4" y="96.6" font-size="8.65" fill="#111">Nova Scotia</text>
<path d="M193.7,108.0 H234.1" stroke="#9e0142" stroke-width="2.5" stroke-dasharray="2.6 2.8"/>
<text x="239.4" y="111.2" font-size="8.65" fill="#111">Alberta</text>
<path d="M193.7,122.7 H234.1" stroke="#3288bd" stroke-width="2.5"/>
<path d="M207.9,119.3 L219.9,119.3 L213.9,129.7 Z" fill="#3288bd"/>
<text x="239.4" y="125.9" font-size="8.65" fill="#111">New Brunswick</text>
<path d="M193.7,137.4 H234.1" stroke="#fde59a" stroke-width="2.5" stroke-dasharray="10.6 10.8"/>
<rect x="209.9" y="133.2" width="8.0" height="8.4" fill="#fde59a"/>
<text x="239.4" y="140.6" font-size="8.65" fill="#111">Saskatchewan</text>
<path d="M193.7,152.1 H234.1" stroke="#66c2a5" stroke-width="2.5" stroke-dasharray="2.6 2.8"/>
<path d="M210.4,146.1 L210.4,158.1 L220.8,152.1 Z" fill="#66c2a5"/>
<text x="239.4" y="155.3" font-size="8.65" fill="#111">Newfoundland</text>
<path d="M193.7,166.7 H234.1" stroke="#5e4fa2" stroke-width="2.5" stroke-dasharray="10.6 10.8"/>
<path d="M207.9,170.2 L219.9,170.2 L213.9,159.8 Z" fill="#5e4fa2"/>
<text x="239.4" y="169.9" font-size="8.65" fill="#111">Prince Edward Island</text>
<path d="M580,40.2 H620.3" stroke="#4a7dae" stroke-width="3.0"/>
<text x="625.5" y="43.6" font-size="8.65" fill="#111">France</text>
<path d="M580,54.9 H620.3" stroke="#e23a3f" stroke-width="2.6" stroke-dasharray="10.9 10.7"/>
<text x="625.5" y="58.3" font-size="8.65" fill="#111">Italy</text>
<path d="M580,69.6 H620.3" stroke="#57b454" stroke-width="2.6" stroke-dasharray="2.6 2.8"/>
<text x="625.5" y="73.0" font-size="8.65" fill="#111">Germany</text>
</svg></body></html>
